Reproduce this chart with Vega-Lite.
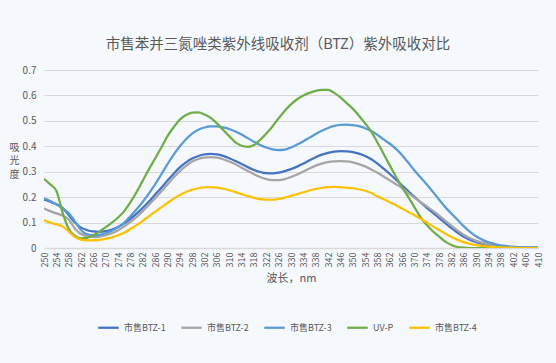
{
  "$schema": "https://vega.github.io/schema/vega-lite/v6.json",
  "autosize": {"type": "none"},
  "width": 494,
  "height": 178,
  "padding": {"left": 44, "top": 70, "right": 18, "bottom": 115},
  "background": "#F5F8FD",
  "config": {
    "view": {"stroke": null},
    "font": "Noto Sans CJK SC",
    "axis": {"labelColor": "#595959", "titleColor": "#595959", "labelFont": "Noto Sans CJK SC", "titleFont": "Noto Sans CJK SC", "titleFontWeight": "normal"}
  },
  "title": {
    "text": "市售苯并三氮唑类紫外线吸收剂（BTZ）紫外吸收对比",
    "fontSize": 14.5,
    "fontWeight": "normal",
    "color": "#595959",
    "anchor": "middle",
    "dx": -13,
    "offset": 13
  },
  "data": {
    "values": [
      {"wl":250,"市售BTZ-1":0.19,"市售BTZ-2":0.155,"市售BTZ-3":0.195,"UV-P":0.272,"市售BTZ-4":0.11},
      {"wl":252,"市售BTZ-1":0.182,"市售BTZ-2":0.145,"市售BTZ-3":0.185,"UV-P":0.25,"市售BTZ-4":0.1},
      {"wl":254,"市售BTZ-1":0.172,"市售BTZ-2":0.136,"市售BTZ-3":0.172,"UV-P":0.225,"市售BTZ-4":0.093},
      {"wl":256,"市售BTZ-1":0.158,"市售BTZ-2":0.128,"市售BTZ-3":0.155,"UV-P":0.14,"市售BTZ-4":0.085},
      {"wl":258,"市售BTZ-1":0.13,"市售BTZ-2":0.112,"市售BTZ-3":0.138,"UV-P":0.075,"市售BTZ-4":0.065},
      {"wl":260,"市售BTZ-1":0.1,"市售BTZ-2":0.077,"市售BTZ-3":0.105,"UV-P":0.048,"市售BTZ-4":0.043},
      {"wl":262,"市售BTZ-1":0.08,"市售BTZ-2":0.055,"市售BTZ-3":0.07,"UV-P":0.038,"市售BTZ-4":0.033},
      {"wl":264,"市售BTZ-1":0.07,"市售BTZ-2":0.046,"市售BTZ-3":0.054,"UV-P":0.04,"市售BTZ-4":0.03},
      {"wl":266,"市售BTZ-1":0.065,"市售BTZ-2":0.043,"市售BTZ-3":0.05,"UV-P":0.05,"市售BTZ-4":0.03},
      {"wl":268,"市售BTZ-1":0.063,"市售BTZ-2":0.045,"市售BTZ-3":0.052,"UV-P":0.065,"市售BTZ-4":0.032},
      {"wl":270,"市售BTZ-1":0.066,"市售BTZ-2":0.05,"市售BTZ-3":0.058,"UV-P":0.082,"市售BTZ-4":0.036},
      {"wl":272,"市售BTZ-1":0.073,"市售BTZ-2":0.058,"市售BTZ-3":0.068,"UV-P":0.1,"市售BTZ-4":0.042},
      {"wl":274,"市售BTZ-1":0.083,"市售BTZ-2":0.07,"市售BTZ-3":0.082,"UV-P":0.12,"市售BTZ-4":0.05},
      {"wl":276,"市售BTZ-1":0.097,"市售BTZ-2":0.085,"市售BTZ-3":0.1,"UV-P":0.145,"市售BTZ-4":0.06},
      {"wl":278,"市售BTZ-1":0.115,"市售BTZ-2":0.103,"市售BTZ-3":0.125,"UV-P":0.18,"市售BTZ-4":0.075},
      {"wl":280,"市售BTZ-1":0.135,"市售BTZ-2":0.122,"市售BTZ-3":0.152,"UV-P":0.22,"市售BTZ-4":0.09},
      {"wl":282,"市售BTZ-1":0.158,"市售BTZ-2":0.145,"市售BTZ-3":0.182,"UV-P":0.265,"市售BTZ-4":0.107},
      {"wl":284,"市售BTZ-1":0.183,"市售BTZ-2":0.17,"市售BTZ-3":0.215,"UV-P":0.31,"市售BTZ-4":0.125},
      {"wl":286,"市售BTZ-1":0.21,"市售BTZ-2":0.196,"市售BTZ-3":0.25,"UV-P":0.352,"市售BTZ-4":0.143},
      {"wl":288,"市售BTZ-1":0.237,"市售BTZ-2":0.222,"市售BTZ-3":0.29,"UV-P":0.395,"市售BTZ-4":0.16},
      {"wl":290,"市售BTZ-1":0.265,"市售BTZ-2":0.25,"市售BTZ-3":0.33,"UV-P":0.44,"市售BTZ-4":0.177},
      {"wl":292,"市售BTZ-1":0.292,"市售BTZ-2":0.277,"市售BTZ-3":0.367,"UV-P":0.475,"市售BTZ-4":0.194},
      {"wl":294,"市售BTZ-1":0.317,"市售BTZ-2":0.302,"市售BTZ-3":0.4,"UV-P":0.505,"市售BTZ-4":0.208},
      {"wl":296,"市售BTZ-1":0.337,"市售BTZ-2":0.323,"市售BTZ-3":0.428,"UV-P":0.523,"市售BTZ-4":0.22},
      {"wl":298,"市售BTZ-1":0.352,"市售BTZ-2":0.34,"市售BTZ-3":0.45,"UV-P":0.532,"市售BTZ-4":0.229},
      {"wl":300,"市售BTZ-1":0.362,"市售BTZ-2":0.35,"市售BTZ-3":0.465,"UV-P":0.533,"市售BTZ-4":0.235},
      {"wl":302,"市售BTZ-1":0.368,"市售BTZ-2":0.355,"市售BTZ-3":0.474,"UV-P":0.525,"市售BTZ-4":0.238},
      {"wl":304,"市售BTZ-1":0.37,"市售BTZ-2":0.357,"市售BTZ-3":0.478,"UV-P":0.512,"市售BTZ-4":0.239},
      {"wl":306,"市售BTZ-1":0.368,"市售BTZ-2":0.355,"市售BTZ-3":0.478,"UV-P":0.49,"市售BTZ-4":0.237},
      {"wl":308,"市售BTZ-1":0.362,"市售BTZ-2":0.349,"市售BTZ-3":0.474,"UV-P":0.465,"市售BTZ-4":0.233},
      {"wl":310,"市售BTZ-1":0.353,"市售BTZ-2":0.34,"市售BTZ-3":0.468,"UV-P":0.44,"市售BTZ-4":0.227},
      {"wl":312,"市售BTZ-1":0.342,"市售BTZ-2":0.329,"市售BTZ-3":0.458,"UV-P":0.415,"市售BTZ-4":0.22},
      {"wl":314,"市售BTZ-1":0.33,"市售BTZ-2":0.316,"市售BTZ-3":0.446,"UV-P":0.402,"市售BTZ-4":0.212},
      {"wl":316,"市售BTZ-1":0.318,"市售BTZ-2":0.303,"市售BTZ-3":0.432,"UV-P":0.398,"市售BTZ-4":0.204},
      {"wl":318,"市售BTZ-1":0.307,"市售BTZ-2":0.29,"市售BTZ-3":0.418,"UV-P":0.405,"市售BTZ-4":0.197},
      {"wl":320,"市售BTZ-1":0.299,"市售BTZ-2":0.279,"市售BTZ-3":0.405,"UV-P":0.425,"市售BTZ-4":0.192},
      {"wl":322,"市售BTZ-1":0.294,"市售BTZ-2":0.271,"市售BTZ-3":0.395,"UV-P":0.45,"市售BTZ-4":0.19},
      {"wl":324,"市售BTZ-1":0.293,"市售BTZ-2":0.267,"市售BTZ-3":0.388,"UV-P":0.478,"市售BTZ-4":0.19},
      {"wl":326,"市售BTZ-1":0.296,"市售BTZ-2":0.267,"市售BTZ-3":0.385,"UV-P":0.51,"市售BTZ-4":0.193},
      {"wl":328,"市售BTZ-1":0.302,"市售BTZ-2":0.271,"市售BTZ-3":0.387,"UV-P":0.54,"市售BTZ-4":0.198},
      {"wl":330,"市售BTZ-1":0.31,"市售BTZ-2":0.279,"市售BTZ-3":0.395,"UV-P":0.565,"市售BTZ-4":0.205},
      {"wl":332,"市售BTZ-1":0.32,"市售BTZ-2":0.289,"市售BTZ-3":0.407,"UV-P":0.585,"市售BTZ-4":0.212},
      {"wl":334,"市售BTZ-1":0.332,"市售BTZ-2":0.301,"市售BTZ-3":0.42,"UV-P":0.6,"市售BTZ-4":0.219},
      {"wl":336,"市售BTZ-1":0.345,"市售BTZ-2":0.313,"市售BTZ-3":0.434,"UV-P":0.61,"市售BTZ-4":0.226},
      {"wl":338,"市售BTZ-1":0.357,"市售BTZ-2":0.324,"市售BTZ-3":0.448,"UV-P":0.618,"市售BTZ-4":0.232},
      {"wl":340,"市售BTZ-1":0.367,"市售BTZ-2":0.332,"市售BTZ-3":0.461,"UV-P":0.622,"市售BTZ-4":0.236},
      {"wl":342,"市售BTZ-1":0.374,"市售BTZ-2":0.338,"市售BTZ-3":0.472,"UV-P":0.622,"市售BTZ-4":0.239},
      {"wl":344,"市售BTZ-1":0.379,"市售BTZ-2":0.341,"市售BTZ-3":0.48,"UV-P":0.61,"市售BTZ-4":0.24},
      {"wl":346,"市售BTZ-1":0.381,"市售BTZ-2":0.342,"市售BTZ-3":0.484,"UV-P":0.592,"市售BTZ-4":0.239},
      {"wl":348,"市售BTZ-1":0.38,"市售BTZ-2":0.341,"市售BTZ-3":0.485,"UV-P":0.57,"市售BTZ-4":0.237},
      {"wl":350,"市售BTZ-1":0.377,"市售BTZ-2":0.337,"市售BTZ-3":0.483,"UV-P":0.548,"市售BTZ-4":0.235},
      {"wl":352,"市售BTZ-1":0.371,"市售BTZ-2":0.33,"市售BTZ-3":0.479,"UV-P":0.52,"市售BTZ-4":0.231},
      {"wl":354,"市售BTZ-1":0.362,"市售BTZ-2":0.321,"市售BTZ-3":0.471,"UV-P":0.49,"市售BTZ-4":0.225},
      {"wl":356,"市售BTZ-1":0.349,"市售BTZ-2":0.309,"市售BTZ-3":0.46,"UV-P":0.458,"市售BTZ-4":0.216},
      {"wl":358,"市售BTZ-1":0.332,"市售BTZ-2":0.296,"市售BTZ-3":0.445,"UV-P":0.415,"市售BTZ-4":0.203},
      {"wl":360,"市售BTZ-1":0.312,"市售BTZ-2":0.281,"市售BTZ-3":0.427,"UV-P":0.37,"市售BTZ-4":0.192},
      {"wl":362,"市售BTZ-1":0.291,"市售BTZ-2":0.266,"市售BTZ-3":0.41,"UV-P":0.325,"市售BTZ-4":0.18},
      {"wl":364,"市售BTZ-1":0.269,"市售BTZ-2":0.251,"市售BTZ-3":0.39,"UV-P":0.28,"市售BTZ-4":0.168},
      {"wl":366,"市售BTZ-1":0.246,"市售BTZ-2":0.236,"市售BTZ-3":0.365,"UV-P":0.238,"市售BTZ-4":0.155},
      {"wl":368,"市售BTZ-1":0.223,"市售BTZ-2":0.216,"市售BTZ-3":0.335,"UV-P":0.2,"市售BTZ-4":0.142},
      {"wl":370,"市售BTZ-1":0.201,"市售BTZ-2":0.198,"市售BTZ-3":0.305,"UV-P":0.16,"市售BTZ-4":0.129},
      {"wl":372,"市售BTZ-1":0.179,"市售BTZ-2":0.18,"市售BTZ-3":0.277,"UV-P":0.12,"市售BTZ-4":0.115},
      {"wl":374,"市售BTZ-1":0.158,"市售BTZ-2":0.164,"市售BTZ-3":0.25,"UV-P":0.09,"市售BTZ-4":0.1},
      {"wl":376,"市售BTZ-1":0.138,"市售BTZ-2":0.146,"市售BTZ-3":0.22,"UV-P":0.065,"市售BTZ-4":0.085},
      {"wl":378,"市售BTZ-1":0.118,"市售BTZ-2":0.127,"市售BTZ-3":0.19,"UV-P":0.045,"市售BTZ-4":0.071},
      {"wl":380,"市售BTZ-1":0.098,"市售BTZ-2":0.107,"市售BTZ-3":0.16,"UV-P":0.025,"市售BTZ-4":0.056},
      {"wl":382,"市售BTZ-1":0.078,"市售BTZ-2":0.087,"市售BTZ-3":0.135,"UV-P":0.012,"市售BTZ-4":0.043},
      {"wl":384,"市售BTZ-1":0.06,"市售BTZ-2":0.068,"市售BTZ-3":0.11,"UV-P":0.004,"市售BTZ-4":0.032},
      {"wl":386,"市售BTZ-1":0.044,"市售BTZ-2":0.051,"市售BTZ-3":0.085,"UV-P":0.001,"市售BTZ-4":0.023},
      {"wl":388,"市售BTZ-1":0.032,"市售BTZ-2":0.038,"市售BTZ-3":0.063,"UV-P":0,"市售BTZ-4":0.016},
      {"wl":390,"市售BTZ-1":0.023,"市售BTZ-2":0.028,"市售BTZ-3":0.045,"UV-P":0,"市售BTZ-4":0.011},
      {"wl":392,"市售BTZ-1":0.016,"市售BTZ-2":0.02,"市售BTZ-3":0.032,"UV-P":0,"市售BTZ-4":0.008},
      {"wl":394,"市售BTZ-1":0.011,"市售BTZ-2":0.014,"市售BTZ-3":0.022,"UV-P":0,"市售BTZ-4":0.005},
      {"wl":396,"市售BTZ-1":0.007,"市售BTZ-2":0.01,"市售BTZ-3":0.015,"UV-P":0,"市售BTZ-4":0.003},
      {"wl":398,"市售BTZ-1":0.005,"市售BTZ-2":0.007,"市售BTZ-3":0.01,"UV-P":0,"市售BTZ-4":0.002},
      {"wl":400,"市售BTZ-1":0.003,"市售BTZ-2":0.005,"市售BTZ-3":0.007,"UV-P":0,"市售BTZ-4":0.001},
      {"wl":402,"市售BTZ-1":0.002,"市售BTZ-2":0.003,"市售BTZ-3":0.005,"UV-P":0,"市售BTZ-4":0.001},
      {"wl":404,"市售BTZ-1":0.001,"市售BTZ-2":0.002,"市售BTZ-3":0.003,"UV-P":0,"市售BTZ-4":0},
      {"wl":406,"市售BTZ-1":0.001,"市售BTZ-2":0.001,"市售BTZ-3":0.002,"UV-P":0,"市售BTZ-4":0},
      {"wl":408,"市售BTZ-1":0.001,"市售BTZ-2":0.001,"市售BTZ-3":0.001,"UV-P":0,"市售BTZ-4":0},
      {"wl":410,"市售BTZ-1":0.001,"市售BTZ-2":0.001,"市售BTZ-3":0.001,"UV-P":0,"市售BTZ-4":0}
    ]
  },
  "transform": [
    {"fold": ["市售BTZ-1", "市售BTZ-2", "市售BTZ-3", "UV-P", "市售BTZ-4"], "as": ["series", "v"]}
  ],
  "mark": {"type": "line", "strokeWidth": 2.25, "interpolate": "monotone", "clip": true},
  "encoding": {
    "x": {
      "field": "wl",
      "type": "quantitative",
      "scale": {"domain": [250, 410], "nice": false, "zero": false},
      "axis": {
        "title": "波长，nm",
        "titleFontSize": 11,
        "titlePadding": 6,
        "values": [250,254,258,262,266,270,274,278,282,286,290,294,298,302,306,310,314,318,322,326,330,334,338,342,346,350,354,358,362,366,370,374,378,382,386,390,394,398,402,406,410],
        "labelAngle": -90,
        "labelFontSize": 9,
        "labelPadding": 4,
        "grid": false,
        "ticks": false,
        "domainColor": "#D9D9D9",
        "domainWidth": 1.5,
        "labelOverlap": false
      }
    },
    "y": {
      "field": "v",
      "type": "quantitative",
      "scale": {"domain": [0, 0.7], "nice": false},
      "axis": {
        "title": ["吸", "光", "度"],
        "titleAngle": 0,
        "titleFontSize": 10,
        "titleLineHeight": 13.5,
        "titleX": -30,
        "titleY": 77,
        "titleAlign": "center",
        "titleBaseline": "middle",
        "values": [0, 0.1, 0.2, 0.3, 0.4, 0.5, 0.6, 0.7],
        "format": ".1~f",
        "labelFontSize": 10,
        "labelPadding": 8,
        "ticks": false,
        "domain": false,
        "gridColor": "#D9D9D9",
        "gridWidth": 1
      }
    },
    "color": {
      "field": "series",
      "type": "nominal",
      "scale": {
        "domain": ["市售BTZ-1", "市售BTZ-2", "市售BTZ-3", "UV-P", "市售BTZ-4"],
        "range": ["#4472C4", "#A5A5A5", "#5B9BD5", "#70AD47", "#FFC000"]
      },
      "legend": {
        "orient": "none",
        "direction": "horizontal",
        "legendX": 53,
        "legendY": 246,
        "title": null,
        "symbolType": "stroke",
        "symbolSize": 420,
        "symbolStrokeWidth": 2.25,
        "labelFontSize": 9,
        "labelColor": "#595959",
        "columnPadding": 10,
        "padding": 0
      }
    }
  }
}
